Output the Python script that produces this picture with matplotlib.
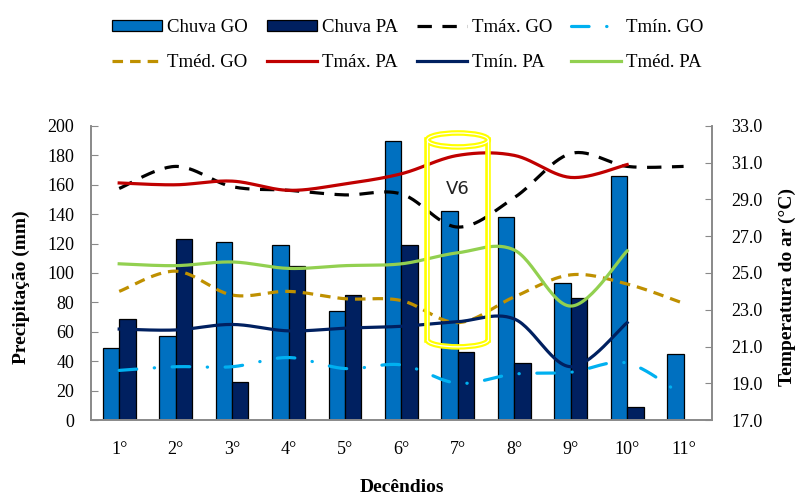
import numpy as np
import matplotlib
matplotlib.use("Agg")
import matplotlib.pyplot as plt
from matplotlib.patches import Ellipse, Arc
from matplotlib.lines import Line2D

plt.rcParams['font.family'] = ['Liberation Serif', 'DejaVu Serif']

decendios = ["1°", "2°", "3°", "4°", "5°", "6°", "7°", "8°", "9°", "10°", "11°"]

chuva_go = [49, 57, 121, 119, 74, 190, 142, 138, 93, 166, 45]
chuva_pa = [69, 123, 26, 105, 85, 119, 46, 39, 83, 9]

tmax_go = [29.6, 30.8, 29.7, 29.5, 29.25, 29.3, 27.5, 29.1, 31.5, 30.8, 30.8]
tmin_go = [19.7, 19.9, 19.9, 20.4, 19.8, 20.0, 19.0, 19.5, 19.6, 20.1, 18.3]
tmed_go = [24.0, 25.1, 23.8, 24.0, 23.6, 23.5, 22.3, 23.7, 24.9, 24.4, 23.35]
tmax_pa = [29.9, 29.8, 30.0, 29.5, 29.85, 30.4, 31.4, 31.4, 30.2, 30.9]
tmin_pa = [21.95, 21.9, 22.2, 21.85, 22.0, 22.1, 22.35, 22.5, 19.9, 22.3]
tmed_pa = [25.5, 25.4, 25.6, 25.25, 25.4, 25.5, 26.1, 26.25, 23.2, 26.2]


def smooth(y, n=30):
    # excel-like smoothed line (bezier through the points)
    x = np.arange(len(y), dtype=float)
    y = np.asarray(y, dtype=float)
    xs, ys = [], []
    for i in range(len(y) - 1):
        i0 = max(i - 1, 0)
        i3 = min(i + 2, len(y) - 1)
        p0, p1, p2, p3 = [np.array([x[k], y[k]]) for k in (i0, i, i + 1, i3)]
        c1 = p1 + (p2 - p0) / 6
        c2 = p2 - (p3 - p1) / 6
        t = np.linspace(0, 1, n)[:, None]
        b = (1 - t) ** 3 * p1 + 3 * (1 - t) ** 2 * t * c1 + 3 * (1 - t) * t ** 2 * c2 + t ** 3 * p2
        xs.extend(b[:, 0]); ys.extend(b[:, 1])
    return np.array(xs), np.array(ys)


fig = plt.figure(figsize=(7.98, 4.96), dpi=100)
ax = fig.add_axes([0.1140, 0.1532, 0.7780, 0.5928])
ax2 = ax.twinx()

w = 0.29
xg = np.arange(len(chuva_go))
xp = np.arange(len(chuva_pa))
b1 = ax.bar(xg - w / 2, chuva_go, w, color="#0070C0", edgecolor="black", linewidth=0.9, label="Chuva GO")
b2 = ax.bar(xp + w / 2, chuva_pa, w, color="#002060", edgecolor="black", linewidth=0.9, label="Chuva PA")

lw = 2.3
l_tmax_go, = ax2.plot(*smooth(tmax_go), color="black", lw=lw, dashes=(4.5, 3.3), label="Tmáx. GO")
l_tmin_go, = ax2.plot(*smooth(tmin_go), color="#00B0F0", lw=lw, dashes=(5.5, 5.5, 0.1, 5.5),
                      dash_capstyle="round", label="Tmín. GO")
l_tmed_go, = ax2.plot(*smooth(tmed_go), color="#BF9000", lw=lw, dashes=(3.3, 2.2), label="Tméd. GO")
l_tmax_pa, = ax2.plot(*smooth(tmax_pa), color="#C00000", lw=lw, label="Tmáx. PA")
l_tmin_pa, = ax2.plot(*smooth(tmin_pa), color="#002060", lw=lw, label="Tmín. PA")
l_tmed_pa, = ax2.plot(*smooth(tmed_pa), color="#92D050", lw=lw, label="Tméd. PA")

ax.set_xlim(-0.5, 10.5)
ax.set_ylim(0, 200)
ax.set_yticks(np.arange(0, 201, 20))
ax2.set_ylim(17, 33)
ax2.set_yticks(np.arange(17, 33.1, 2))
ax2.set_yticklabels([f"{v:.1f}" for v in np.arange(17, 33.1, 2)])
ax.set_xticks(xg)
ax.set_xticklabels(decendios)

gray = "#898989"
for a in (ax, ax2):
    a.spines["top"].set_visible(False)
    for s in ("left", "right", "bottom"):
        a.spines[s].set_color(gray)
        a.spines[s].set_linewidth(1.2)
ax.tick_params(axis="y", direction="in", length=5, color=gray, labelsize=13, pad=12)
ax.tick_params(axis="x", length=0, labelsize=13, pad=15)
ax2.tick_params(axis="y", direction="in", length=5, color=gray, labelsize=13, pad=14)

# yellow cylinder marking V6
cx, cw = 6.0, 1.08
ytop, ybot, eh = 190.5, 54.5, 9.5
for col, lwid in (("#FFFF00", 4.0), ("white", 0.9)):
    ax2.add_patch(Ellipse((cx, ytop), cw, eh, fill=False, edgecolor=col, lw=lwid,
                          transform=ax.transData, zorder=5))
    ax2.add_patch(Arc((cx, ybot), cw, eh, theta1=180, theta2=360, edgecolor=col, lw=lwid,
                      transform=ax.transData, zorder=5))
    for xx in (cx - cw / 2, cx + cw / 2):
        ax2.add_line(Line2D([xx, xx], [ybot, ytop], color=col, lw=lwid,
                            transform=ax.transData, zorder=5))
ax2.text(cx, 157, "V6", transform=ax.transData, ha="center", va="center",
         fontsize=13, family=["DejaVu Sans"], color="#222222", zorder=6)

fig.text(0.027, 0.421, "Precipitação (mm)", rotation=90, ha="center", va="center",
         fontsize=14, fontweight="bold")
fig.text(0.987, 0.421, "Temperatura do ar (°C)", rotation=90, ha="center", va="center",
         fontsize=14, fontweight="bold")
fig.text(0.504, 0.008, "Decêndios", ha="center", va="baseline", fontsize=14, fontweight="bold")

handles = [b1, l_tmed_go, b2, l_tmax_pa, l_tmax_go, l_tmin_pa, l_tmin_go, l_tmed_pa]
fig.legend(handles=handles, labels=[h.get_label() for h in handles], ncol=4,
           loc="upper left", bbox_to_anchor=(0.129, 0.98), borderpad=0, frameon=False,
           fontsize=13.5, handlelength=2.67, handleheight=0.55, handletextpad=0.27,
           columnspacing=1.0, labelspacing=0.95)

fig.savefig("out.png", dpi=100)
